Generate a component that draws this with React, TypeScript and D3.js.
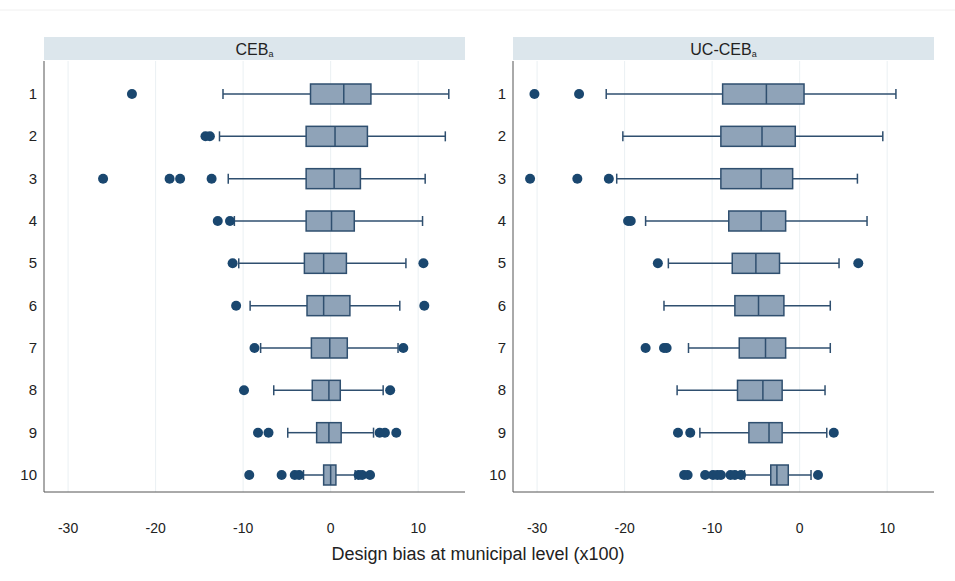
import * as d3 from 'd3';

const groups = ['1', '2', '3', '4', '5', '6', '7', '8', '9', '10'];
const xTicks = [-30, -20, -10, 0, 10];

// [whiskerLow, q1, median, q3, whiskerHigh]
const cebStats = [
  [-12.3, -2.3, 1.5, 4.6, 13.5],
  [-12.7, -2.8, 0.5, 4.2, 13.1],
  [-11.7, -2.8, 0.4, 3.4, 10.8],
  [-11.0, -2.8, 0.1, 2.7, 10.5],
  [-10.5, -3.0, -0.8, 1.8, 8.6],
  [-9.2, -2.7, -0.8, 2.2, 7.9],
  [-8.0, -2.2, -0.1, 1.9, 7.7],
  [-6.5, -2.1, -0.2, 1.1, 6.0],
  [-4.9, -1.6, -0.2, 1.2, 4.9],
  [-3.1, -0.8, 0.0, 0.6, 2.8],
];
const cebOutliers = [
  [-22.7],
  [-14.3, -13.8],
  [-26, -18.4, -17.2, -13.6],
  [-12.9, -11.5],
  [-11.2, 10.6],
  [-10.8, 10.7],
  [-8.7, 8.3],
  [-9.9, 6.8],
  [-8.3, -7.1, 5.6, 6.2, 7.5],
  [-9.3, -5.6, -4.1, -3.6, 3.2, 3.6, 4.5],
];

const ucStats = [
  [-22.1, -8.8, -3.8, 0.5, 11.0],
  [-20.2, -9.0, -4.3, -0.5, 9.5],
  [-20.9, -9.0, -4.4, -0.8, 6.6],
  [-17.6, -8.1, -4.4, -1.6, 7.7],
  [-15.0, -7.7, -5.0, -2.3, 4.5],
  [-15.5, -7.4, -4.7, -1.8, 3.5],
  [-12.7, -6.9, -3.9, -1.6, 3.5],
  [-14.0, -7.1, -4.2, -2.0, 2.9],
  [-11.4, -5.8, -3.5, -2.0, 3.1],
  [-6.3, -3.3, -2.6, -1.3, 1.3],
];
const ucOutliers = [
  [-30.3, -25.2],
  [],
  [-30.8, -25.4, -21.8],
  [-19.6, -19.3],
  [-16.2, 6.7],
  [],
  [-17.6, -15.5, -15.2],
  [],
  [-13.9, -12.5, 3.9],
  [-13.2, -12.8, -10.8, -9.9, -9.4, -9.0, -7.9, -7.4, -6.7, 2.1],
];

const panels = [
  { title: 'CEB', left: 44, stats: cebStats, outliers: cebOutliers },
  { title: 'UC-CEB', left: 513, stats: ucStats, outliers: ucOutliers },
];

const panelW = 421;
const top = 61;
const bottom = 492;
const boxFill = '#8fa3b8';
const stroke = '#2f4f6f';
const dot = '#1a476f';

function Panel({ title, left, stats, outliers }: any) {
  const x = d3.scaleLinear().domain([-32.75, 15.35]).range([left, left + panelW]);
  const y = d3.scalePoint().domain(groups).range([94, 475]);
  const h = 20;
  return (
    <g>
      <rect x={left} y={37} width={panelW} height={23} fill="#dce6ec" />
      <text x={left + panelW / 2} y={55} textAnchor="middle" fontSize={16} fill="#222">
        {title}
        <tspan fontSize={9} dy={2}>a</tspan>
      </text>
      {xTicks.map((t) => (
        <g key={t}>
          <line x1={x(t)} x2={x(t)} y1={top} y2={bottom} stroke="#eaf0f3" strokeWidth={1} />
          <text x={x(t)} y={533} textAnchor="middle" fontSize={14} fill="#222">{t}</text>
        </g>
      ))}
      <line x1={left} x2={left} y1={top} y2={bottom} stroke="#555" />
      <line x1={left} x2={left + panelW} y1={bottom} y2={bottom} stroke="#555" />
      {groups.map((g, i) => {
        const cy = y(g)!;
        const [lo, q1, md, q3, hi] = stats[i];
        return (
          <g key={g}>
            <text x={left - 7} y={cy + 5} textAnchor="end" fontSize={15} fill="#222">{g}</text>
            <line x1={x(lo)} x2={x(q1)} y1={cy} y2={cy} stroke={stroke} strokeWidth={1.5} />
            <line x1={x(q3)} x2={x(hi)} y1={cy} y2={cy} stroke={stroke} strokeWidth={1.5} />
            <line x1={x(lo)} x2={x(lo)} y1={cy - 5} y2={cy + 5} stroke={stroke} strokeWidth={1.5} />
            <line x1={x(hi)} x2={x(hi)} y1={cy - 5} y2={cy + 5} stroke={stroke} strokeWidth={1.5} />
            <rect x={x(q1)} y={cy - h / 2} width={x(q3) - x(q1)} height={h} fill={boxFill} stroke={stroke} strokeWidth={1.5} />
            <line x1={x(md)} x2={x(md)} y1={cy - h / 2} y2={cy + h / 2} stroke={stroke} strokeWidth={1.5} />
            {outliers[i].map((v: number, k: number) => (
              <circle key={k} cx={x(v)} cy={cy} r={5} fill={dot} />
            ))}
          </g>
        );
      })}
    </g>
  );
}

export default function App() {
  return (
    <svg width={955} height={581} style={{ position: 'absolute', left: 0, top: 0, fontFamily: 'Arial, Liberation Sans, sans-serif', background: '#fff' }}>
      <rect width={955} height={581} fill="#fff" />
      <line x1={0} x2={955} y1={10} y2={10} stroke="#f0f0f0" />
      {panels.map((p) => <Panel key={p.title} {...p} />)}
      <text x={478} y={560} textAnchor="middle" fontSize={18} fill="#222">Design bias at municipal level (x100)</text>
    </svg>
  );
}
